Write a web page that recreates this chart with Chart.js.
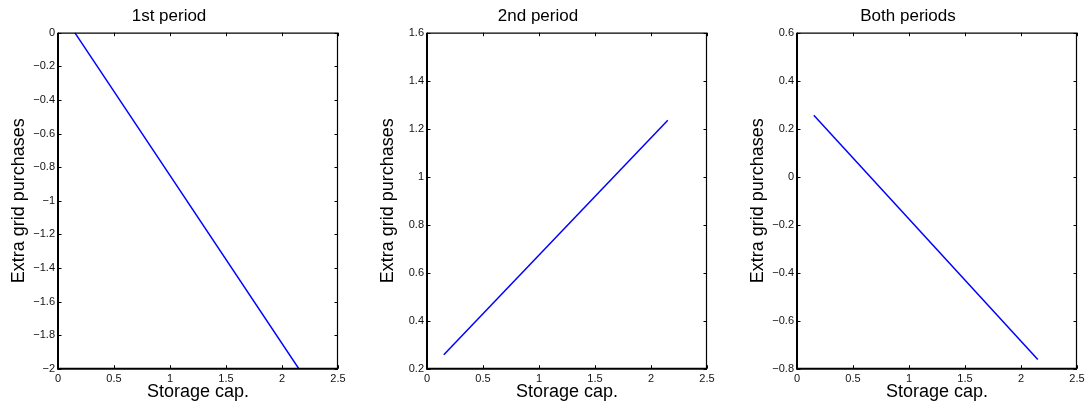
<!DOCTYPE html>
<html>
<head>
<meta charset="utf-8">
<script src="https://cdn.jsdelivr.net/npm/chart.js@4.4.1/dist/chart.umd.min.js"></script>
<style>
  html, body { margin: 0; padding: 0; background: #fff; overflow: hidden; }
  body { width: 1085px; height: 403px; position: relative; }
  canvas { position: absolute; top: 0; }
</style>
</head>
<body>
<canvas id="c1" width="396" height="403"></canvas>
<canvas id="c2" width="396" height="403"></canvas>
<canvas id="c3" width="396" height="403"></canvas>
<script>
// storage capacity (x) and extra grid purchases (y)
const storageCap = [0.15, 2.15];
const firstPeriod = [0.0, -2.0];
const secondPeriod = [0.258, 1.235];
const bothPeriods = [0.256, -0.762];

const titles = ['1st period', '2nd period', 'Both periods'];
const yRanges = [[-2, 0], [0.2, 1.6], [-0.8, 0.6]];
const plotLefts = [57.5, 427, 796.5];

const FONT = 'Liberation Sans, Arial, Helvetica, sans-serif';

// matlab style box with inward tick marks on all four sides
const boxTicks = {
  id: 'boxTicks',
  afterDraw(chart) {
    const { ctx, chartArea: a, scales } = chart;
    const len = 3.5;
    ctx.save();
    ctx.strokeStyle = '#000';
    ctx.lineWidth = 1;
    ctx.beginPath();
    scales.x.ticks.forEach(t => {
      const px = Math.round(scales.x.getPixelForValue(t.value)) + 0.5;
      ctx.moveTo(px, a.bottom); ctx.lineTo(px, a.bottom - len);
      ctx.moveTo(px, a.top); ctx.lineTo(px, a.top + len);
    });
    scales.y.ticks.forEach(t => {
      const py = Math.round(scales.y.getPixelForValue(t.value)) + 0.5;
      ctx.moveTo(a.left, py); ctx.lineTo(a.left + len, py);
      ctx.moveTo(a.right, py); ctx.lineTo(a.right - len, py);
    });
    ctx.stroke();
    // frame: thin top/right, heavier left/bottom
    ctx.lineWidth = 1.2;
    ctx.beginPath();
    ctx.moveTo(a.left, a.top + 0.5); ctx.lineTo(a.right, a.top + 0.5);
    ctx.moveTo(a.right - 0.5, a.top); ctx.lineTo(a.right - 0.5, a.bottom);
    ctx.stroke();
    ctx.lineWidth = 2;
    ctx.beginPath();
    ctx.moveTo(a.left, a.top); ctx.lineTo(a.left, a.bottom);
    ctx.lineTo(a.right, a.bottom);
    ctx.stroke();
    ctx.restore();
  }
};

function fmt(v) {
  const s = String(Math.round(v * 10) / 10);
  return s.replace('-', '\u2212');
}

function makeChart(id, idx, values) {
  const canvas = document.getElementById(id);
  canvas.style.left = (plotLefts[idx] - 58) + 'px';
  return new Chart(canvas, {
    type: 'line',
    data: {
      datasets: [{
        data: storageCap.map((x, i) => ({ x: x, y: values[i] })),
        borderColor: '#0000ff',
        borderWidth: 1.5,
        pointRadius: 0,
        fill: false,
        tension: 0
      }]
    },
    options: {
      responsive: false,
      animation: false,
      devicePixelRatio: 1,
      layout: { padding: { left: 0, right: 58, top: 0, bottom: 0 } },
      plugins: {
        legend: { display: false },
        tooltip: { enabled: false },
        title: {
          display: true,
          text: titles[idx],
          color: '#000',
          font: { family: FONT, size: 17, weight: 'normal', lineHeight: 1.2 },
          padding: { top: 6.5, bottom: 5.8 }
        }
      },
      scales: {
        x: {
          type: 'linear',
          min: 0, max: 2.5,
          afterFit: s => { s.height = 34.3; },
          ticks: { stepSize: 0.5, color: '#111', padding: 3.5, maxRotation: 0,
                   font: { family: FONT, size: 11 }, callback: fmt },
          grid: { display: false, drawTicks: false },
          border: { display: false },
          title: { display: true, text: 'Storage cap.', color: '#000',
                   font: { family: FONT, size: 18, lineHeight: 1.2 },
                   padding: { top: 0, bottom: 0 } }
        },
        y: {
          type: 'linear',
          min: yRanges[idx][0], max: yRanges[idx][1],
          afterFit: s => { s.width = 58; },
          ticks: { stepSize: 0.2, color: '#111', padding: 3,
                   font: { family: FONT, size: 11 }, callback: fmt },
          grid: { display: false, drawTicks: false },
          border: { display: false },
          title: { display: true, text: 'Extra grid purchases', color: '#000',
                   font: { family: FONT, size: 18, lineHeight: 1.2 },
                   padding: { top: 8.2, bottom: 0 } }
        }
      }
    },
    plugins: [boxTicks]
  });
}

makeChart('c1', 0, firstPeriod);
makeChart('c2', 1, secondPeriod);
makeChart('c3', 2, bothPeriods);
</script>
</body>
</html>
